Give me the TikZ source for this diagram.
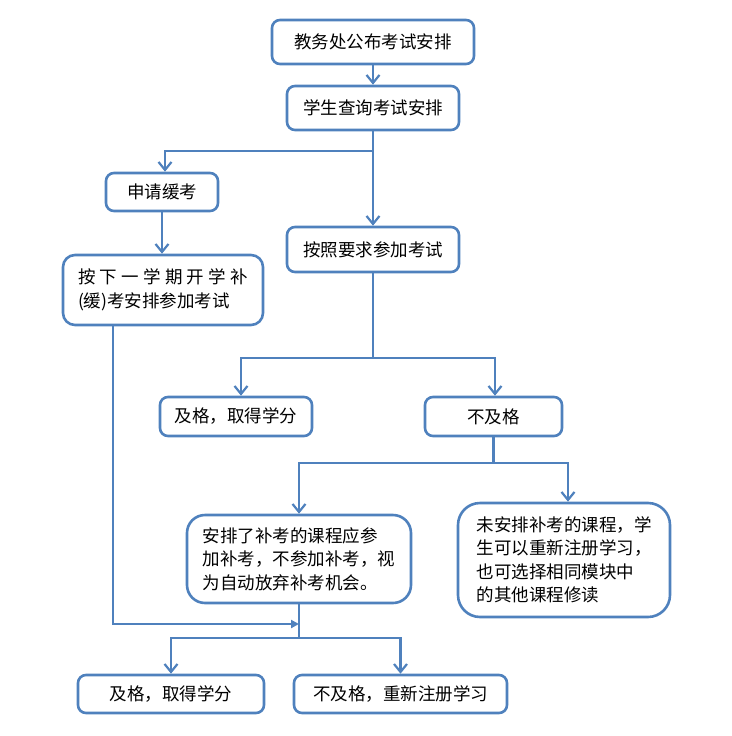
\documentclass[tikz,border=0pt]{standalone}
\usepackage{fontspec}
\setmainfont{Noto Sans CJK SC}
\usetikzlibrary{arrows.meta}
\definecolor{lineblue}{RGB}{79,129,189}
\newlength\lwA
\newlength\lwB
\tikzset{
  box/.style={draw=lineblue, line width=2.6pt, rounded corners=8pt, fill=white,
    inner sep=0pt, font=\fontsize{17.5}{23.5}\selectfont},
  conn/.style={draw=lineblue, line width=2.2pt, sharp corners},
  arr/.style={conn, -{Straight Barb[length=8pt,width=13pt,line width=2.2pt]}},
  farr/.style={conn, -{Triangle[length=8pt,width=8pt]}},
}
\begin{document}
\begin{tikzpicture}[x=1pt,y=-1pt]
\useasboundingbox (0,0) rectangle (731,736);
\settowidth{\lwA}{\fontsize{17.5}{23.5}\selectfont 加补考，不参加补考，视}
\settowidth{\lwB}{\fontsize{17.5}{23.5}\selectfont 未安排补考的课程，学}

\node[box, minimum width=202pt, minimum height=44pt] (a) at (373,42) {教务处公布考试安排};
\node[box, minimum width=172pt, minimum height=44pt] (b) at (373,108) {学生查询考试安排};
\node[box, minimum width=112pt, minimum height=38pt] (c) at (162,192) {申请缓考};
\node[box, minimum width=172pt, minimum height=45pt] (d) at (373,249.5) {按照要求参加考试};
\node[box, rounded corners=12pt, minimum width=200pt, minimum height=70pt, align=left] (e) at (163,290)
  {\hbox to 170pt{按\hfill 下\hfill 一\hfill 学\hfill 期\hfill 开\hfill 学\hfill 补}\\(缓)考安排参加考试};
\node[box, minimum width=152pt, minimum height=39pt] (f) at (236,416.5) {及格，取得学分};
\node[box, minimum width=137pt, minimum height=39pt] (g) at (493.5,416.5) {不及格};
\node[box, rounded corners=18pt, minimum width=224pt, minimum height=88pt, align=left] (h) at (299,559)
  {\hbox to \lwA{安\hfill 排\hfill 了\hfill 补\hfill 考\hfill 的\hfill 课\hfill 程\hfill 应\hfill 参}\\
   加补考，不参加补考，视\\
   为自动放弃补考机会。};
\node[box, rounded corners=22pt, minimum width=212pt, minimum height=114pt, align=left] (i) at (564,560)
  {未安排补考的课程，学\\
   生可以重新注册学习，\\
   \hbox to \lwB{也\hfill 可\hfill 选\hfill 择\hfill 相\hfill 同\hfill 模\hfill 块\hfill 中}\\
   的其他课程修读};
\node[box, minimum width=186pt, minimum height=38pt] (k) at (171,694) {及格，取得学分};
\node[box, minimum width=213pt, minimum height=38pt] (l) at (400.5,694) {不及格，重新注册学习};

\coordinate (j1) at (373,151);
\coordinate (j2) at (373,358);
\coordinate (j3) at (493.5,463);
\coordinate (j4) at (299,624);
\coordinate (j5) at (299,638);

\draw[arr] (a) -- (b);
\draw[arr] (b) -- (d);
\draw[arr] (j1) -| ([xshift=3pt]c.north);
\draw[arr] (c) -- (c |- e.north);
\draw[conn] (d.south) -- (j2);
\draw[arr] (j2) -| ([xshift=5pt]f.north);
\draw[arr] (j2) -| ([xshift=1.5pt]g.north);
\draw[conn] (g.south) -- (j3);
\draw[arr] (j3) -| (h.north);
\draw[arr] (j3) -| ([xshift=4pt]i.north);
\draw[farr] ([xshift=-50pt]e.south) |- (j4);
\draw[conn] (h.south) -- (j5);
\draw[arr] (j5) -| (k.north);
\draw[arr] (j5) -| (l.north);
\end{tikzpicture}
\end{document}
